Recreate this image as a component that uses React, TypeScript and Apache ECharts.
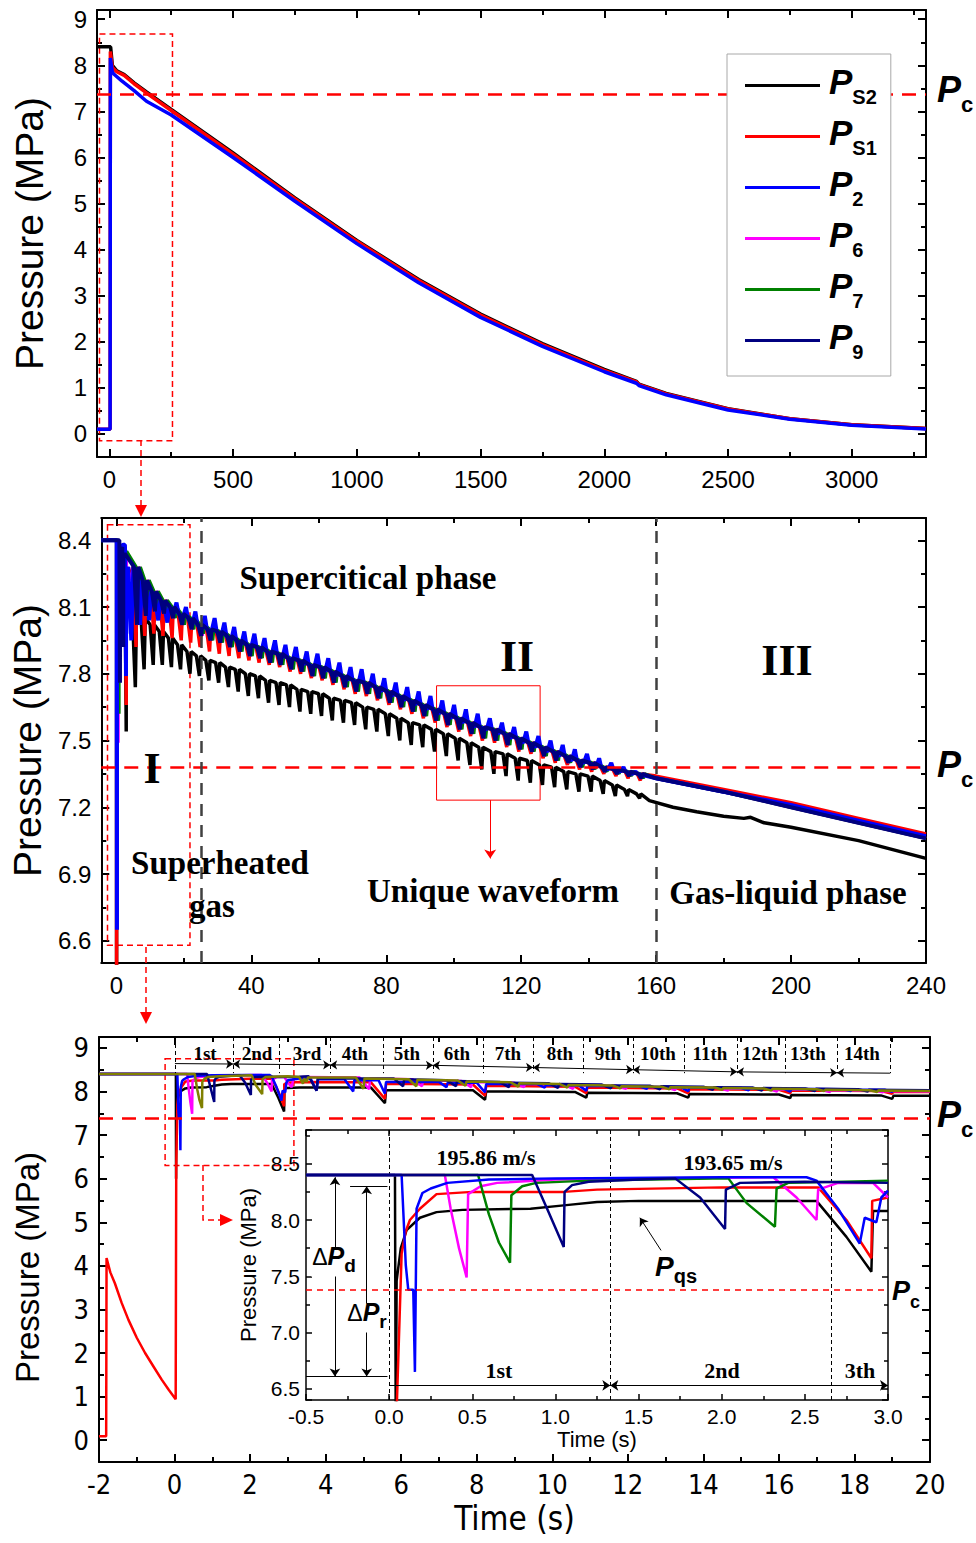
import React, { useEffect, useRef } from "react";
import * as echarts from "echarts";

// ---------------- constants ----------------
const PC = 7.38; // critical pressure, MPa
const P0 = 8.4; // initial pressure, MPa

// ---------------- panel (a): whole blow-down [t (s), p (MPa)] ----------------
const fullPS2 = [[-50, 8.4], [5, 8.4], [12, 8.0], [30, 7.88], [60, 7.8], [100, 7.62], [150, 7.42], [250, 7.04], [500, 6.1], [750, 5.12], [1000, 4.2], [1250, 3.35], [1500, 2.6], [1750, 1.96], [2000, 1.4], [2130, 1.14], [2140, 1.08], [2250, 0.88], [2500, 0.55], [2750, 0.33], [3000, 0.2], [3300, 0.12]];
const fullPS1 = [[-50, 0.1], [3, 0.1], [4, 8.3], [12, 7.95], [30, 7.86], [60, 7.78], [100, 7.6], [150, 7.4], [250, 7.02], [500, 6.07], [750, 5.1], [1000, 4.18], [1250, 3.33], [1500, 2.58], [1750, 1.94], [2000, 1.38], [2130, 1.13], [2140, 1.07], [2250, 0.87], [2500, 0.54], [2750, 0.33], [3000, 0.2], [3300, 0.12]];
const fullP2 = [[-50, 0.1], [3, 0.1], [4, 8.16], [12, 7.85], [20, 7.8], [50, 7.66], [100, 7.45], [150, 7.22], [250, 6.92], [500, 6.0], [750, 5.05], [1000, 4.13], [1250, 3.28], [1500, 2.53], [1750, 1.9], [2000, 1.35], [2130, 1.1], [2140, 1.05], [2250, 0.85], [2500, 0.52], [2750, 0.32], [3000, 0.19], [3300, 0.11]];

// ---------------- detail 0-3 s (inset) ----------------
const detPS2 = [[-0.5, 8.4], [0.035, 8.4], [0.04, 6.0], [0.045, 7.46], [0.07, 7.75], [0.105, 7.91], [0.185, 8.02], [0.285, 8.07], [0.44, 8.09], [0.85, 8.1], [1.05, 8.13], [1.25, 8.16], [1.5, 8.17], [2.57, 8.17], [2.75, 7.85], [2.9, 7.54], [2.91, 8.08], [3.0, 8.08]];
const prePS1 = [[-2, 0.09], [-1.81, 0.09], [-1.8, 4.18], [-1.7, 3.85], [-1.58, 3.6], [-1.4, 3.15], [-1.22, 2.76], [-1.0, 2.35], [-0.78, 2.0], [-0.55, 1.68], [-0.34, 1.39], [-0.15, 1.15], [0.03, 0.94]];
const detPS1 = [[0.045, 6.3], [0.075, 7.7], [0.1, 7.9], [0.125, 8.0], [0.185, 8.1], [0.285, 8.23], [0.5, 8.25], [1.05, 8.25], [1.25, 8.27], [2.0, 8.29], [2.58, 8.29], [2.75, 8.0], [2.9, 7.66], [2.905, 8.17], [3.0, 8.2]];
const detP2 = [[-0.5, 8.4], [0.075, 8.4], [0.1, 7.6], [0.115, 7.38], [0.145, 7.38], [0.155, 6.65], [0.165, 8.1], [0.2, 8.24], [0.25, 8.28], [0.35, 8.33], [0.6, 8.36], [1.0, 8.37], [2.0, 8.38], [2.51, 8.38], [2.57, 8.35], [2.7, 8.1], [2.83, 7.79], [2.86, 8.02], [2.93, 7.98], [2.96, 8.2], [3.0, 8.26]];
const detP6 = [[-0.5, 8.4], [0.335, 8.4], [0.37, 8.1], [0.42, 7.75], [0.466, 7.49], [0.475, 8.23], [0.55, 8.3], [0.65, 8.33], [1.0, 8.36], [2.31, 8.38], [2.45, 8.2], [2.57, 8.0], [2.58, 8.27], [2.7, 8.33], [2.91, 8.33], [3.0, 8.2]];
const detP7 = [[-0.5, 8.4], [0.535, 8.4], [0.6, 8.05], [0.66, 7.8], [0.727, 7.62], [0.735, 8.22], [0.8, 8.3], [0.885, 8.33], [1.2, 8.35], [2.04, 8.37], [2.15, 8.15], [2.32, 7.94], [2.33, 8.28], [2.4, 8.33], [3.0, 8.35]];
const detP9 = [[-0.5, 8.4], [0.86, 8.4], [0.95, 8.1], [1.05, 7.76], [1.055, 8.25], [1.1, 8.31], [1.2, 8.34], [1.5, 8.36], [1.72, 8.37], [1.87, 8.2], [2.02, 7.92], [2.025, 8.27], [2.11, 8.33], [2.5, 8.34], [3.0, 8.33]];

// ---------------- panel (c): 3-20 s ----------------
const p3PS2 = [[3.3, 8.09], [5.2, 8.09], [5.57, 7.73], [5.6, 8.03], [7.9, 8.03], [8.22, 7.81], [8.25, 8.0], [10.6, 7.99], [10.9, 7.86], [10.93, 7.97], [13.3, 7.96], [13.6, 7.86], [13.63, 7.94], [16.0, 7.93], [16.3, 7.85], [16.33, 7.92], [18.7, 7.91], [19.0, 7.83], [19.03, 7.9], [20, 7.9]];
const p3PS1 = [[3.3, 8.22], [5.2, 8.21], [5.57, 7.83], [5.6, 8.18], [7.9, 8.16], [8.22, 7.9], [8.25, 8.13], [10.6, 8.11], [10.9, 7.96], [10.93, 8.09], [13.3, 8.07], [13.6, 7.96], [13.63, 8.05], [16.0, 8.04], [16.3, 7.96], [16.33, 8.02], [18.7, 8.01], [19.0, 7.95], [19.03, 7.99], [20, 7.99]];
const p3P2 = [[3.3, 8.3], [3.6, 8.3], [3.76, 8.02], [3.8, 8.28], [4.5, 8.28], [4.73, 8.0], [4.76, 8.26], [5.4, 8.26], [5.57, 7.95], [5.6, 8.22], [7.0, 8.22], [7.2, 8.1], [7.23, 8.2], [8.0, 8.2], [8.22, 7.98], [8.25, 8.17], [9.6, 8.17], [9.8, 8.09], [9.83, 8.15], [10.7, 8.14], [10.9, 8.02], [10.93, 8.13], [12.3, 8.12], [12.5, 8.06], [12.53, 8.11], [13.4, 8.1], [13.6, 8.01], [13.63, 8.09], [15.0, 8.08], [15.2, 8.03], [15.23, 8.07], [16.1, 8.07], [16.3, 8.0], [16.33, 8.06], [17.7, 8.05], [17.9, 8.01], [17.93, 8.04], [18.8, 8.04], [19.0, 7.99], [19.03, 8.03], [20, 8.02]];
const p3P6 = [[3.1, 8.1], [3.15, 8.3], [3.4, 8.33], [4.9, 8.32], [5.15, 8.05], [5.18, 8.3], [6.3, 8.28], [6.55, 8.12], [6.58, 8.26], [7.6, 8.24], [7.85, 8.1], [7.88, 8.22], [9.0, 8.2], [9.25, 8.1], [9.28, 8.18], [10.3, 8.16], [10.55, 8.06], [10.58, 8.14], [11.7, 8.13], [11.95, 8.06], [11.98, 8.12], [13.0, 8.1], [13.25, 8.03], [13.28, 8.09], [14.4, 8.08], [14.65, 8.02], [14.68, 8.07], [15.7, 8.06], [15.95, 8.0], [15.98, 8.05], [17.1, 8.04], [17.35, 7.99], [17.38, 8.03], [18.5, 8.02], [18.75, 7.98], [18.78, 8.01], [20, 8.0]];
const p3P7 = [[3.3, 8.33], [3.4, 8.18], [3.43, 8.3], [3.5, 8.22], [3.53, 8.32], [4.8, 8.32], [5.0, 8.06], [5.03, 8.3], [6.2, 8.28], [6.4, 8.12], [6.43, 8.27], [7.5, 8.25], [7.7, 8.13], [7.73, 8.23], [8.9, 8.21], [9.1, 8.11], [9.13, 8.19], [10.2, 8.17], [10.4, 8.09], [10.43, 8.15], [11.6, 8.14], [11.8, 8.07], [11.83, 8.12], [12.9, 8.11], [13.1, 8.05], [13.13, 8.1], [14.3, 8.09], [14.5, 8.04], [14.53, 8.08], [15.6, 8.07], [15.8, 8.02], [15.83, 8.06], [17.0, 8.05], [17.2, 8.01], [17.23, 8.04], [18.4, 8.03], [18.6, 7.99], [18.63, 8.02], [20, 8.01]];
const p3P9 = [[3.3, 8.34], [3.55, 8.35], [3.76, 8.02], [3.79, 8.3], [5.8, 8.3], [6.05, 8.12], [6.08, 8.28], [7.2, 8.26], [7.45, 8.12], [7.48, 8.24], [8.6, 8.22], [8.85, 8.1], [8.88, 8.2], [9.9, 8.19], [10.15, 8.08], [10.18, 8.17], [11.3, 8.16], [11.55, 8.07], [11.58, 8.14], [12.6, 8.13], [12.85, 8.05], [12.88, 8.12], [14.0, 8.11], [14.25, 8.04], [14.28, 8.1], [15.3, 8.09], [15.55, 8.02], [15.58, 8.08], [16.7, 8.07], [16.95, 8.01], [16.98, 8.06], [18.1, 8.05], [18.35, 8.0], [18.38, 8.04], [20, 8.03]];

// cycle boundaries (s) and labels for panel (c)
const cycleBounds = [0.01, 1.55, 2.77, 4.12, 5.52, 6.84, 8.17, 9.49, 10.81, 12.14, 13.49, 14.89, 16.16, 17.54, 18.94];
const arrowBreaks = [0.01, 1.55, 4.12, 6.84, 9.49, 12.14, 14.89, 17.54, 18.94];
const arrowLevels = [8.64, 8.63, 8.61, 8.6, 8.55, 8.5, 8.45, 8.43, 8.42];
const cycleLabels = ["1st", "2nd", "3rd", "4th", "5th", "6th", "7th", "8th", "9th", "10th", "11th", "12th", "13th", "14th"];
// inset cycle boundaries (s)
const insetBounds = [0.0, 1.33, 2.66];

// ---------------- panel (b): oscillation teeth, 5-160 s ----------------
const waveT = [5.6, 8.2, 10.9, 13.6, 16.3, 19.0, 21.8, 24.6, 27.4, 30.3, 33.2, 36.1, 39.1, 42.1, 45.1, 48.2, 51.3, 54.4, 57.6, 60.8, 64.0, 67.3, 70.6, 73.9, 77.2, 80.6, 84.0, 87.4, 90.8, 94.3, 97.8, 101.3, 104.8, 108.3, 111.9, 115.5, 119.1, 122.7, 126.3, 129.9, 133.5, 137.1, 140.7, 144.3, 147.9, 151.5, 155.1];
const topPS2 = [8.08, 8.05, 8.02, 7.99, 7.96, 7.93, 7.90, 7.88, 7.86, 7.85, 7.83, 7.82, 7.80, 7.79, 7.77, 7.76, 7.75, 7.73, 7.72, 7.71, 7.69, 7.68, 7.67, 7.65, 7.64, 7.62, 7.60, 7.58, 7.57, 7.55, 7.53, 7.51, 7.49, 7.47, 7.45, 7.44, 7.42, 7.41, 7.39, 7.38, 7.36, 7.35, 7.34, 7.32, 7.30, 7.28, 7.26];
const botPS2 = [7.74, 7.82, 7.84, 7.84, 7.83, 7.82, 7.80, 7.79, 7.77, 7.76, 7.74, 7.72, 7.70, 7.69, 7.67, 7.66, 7.65, 7.63, 7.62, 7.61, 7.59, 7.58, 7.57, 7.55, 7.54, 7.52, 7.50, 7.48, 7.47, 7.45, 7.43, 7.41, 7.39, 7.37, 7.35, 7.34, 7.32, 7.31, 7.30, 7.29, 7.28, 7.27, 7.27, 7.26, 7.25, 7.25, 7.24];
const baseP9 = [8.28, 8.22, 8.17, 8.13, 8.10, 8.07, 8.05, 8.02, 8.00, 7.99, 7.97, 7.95, 7.93, 7.92, 7.90, 7.89, 7.87, 7.86, 7.84, 7.83, 7.81, 7.79, 7.77, 7.76, 7.74, 7.72, 7.70, 7.68, 7.66, 7.64, 7.62, 7.60, 7.58, 7.56, 7.55, 7.53, 7.51, 7.49, 7.47, 7.45, 7.43, 7.41, 7.40, 7.38, 7.37, 7.36, 7.35];
const dipP9 = [8.02, 8.06, 8.08, 8.07, 8.05, 8.02, 8.00, 7.97, 7.95, 7.94, 7.92, 7.90, 7.88, 7.87, 7.85, 7.84, 7.82, 7.81, 7.79, 7.78, 7.76, 7.74, 7.72, 7.71, 7.69, 7.67, 7.65, 7.63, 7.61, 7.59, 7.57, 7.55, 7.53, 7.51, 7.50, 7.48, 7.46, 7.45, 7.43, 7.41, 7.40, 7.38, 7.37, 7.36, 7.35, 7.34, 7.33];
const extP2 = [7.95, 8.02, 8.04, 8.04, 8.03, 8.12, 8.10, 8.08, 8.06, 8.05, 8.03, 8.01, 7.99, 7.98, 7.96, 7.95, 7.93, 7.92, 7.90, 7.89, 7.87, 7.85, 7.83, 7.82, 7.80, 7.78, 7.76, 7.74, 7.72, 7.70, 7.68, 7.66, 7.64, 7.62, 7.60, 7.58, 7.56, 7.54, 7.52, 7.50, 7.48, 7.46, 7.44, 7.42, 7.40, 7.38, 7.36];
const extPS1 = [7.92, 7.97, 7.98, 7.97, 7.96, 7.95, 7.94, 7.92, 7.90, 7.89, 7.88, 7.87, 7.86, 7.85, 7.84, 7.83, 7.81, 7.80, 7.78, 7.77, 7.75, 7.73, 7.71, 7.70, 7.68, 7.66, 7.64, 7.62, 7.60, 7.58, 7.56, 7.54, 7.52, 7.50, 7.49, 7.47, 7.45, 7.44, 7.42, 7.40, 7.39, 7.37, 7.36, 7.35, 7.34, 7.33, 7.32];
const earlyP7 = [8.08, 8.10, 8.10, 8.08, 8.05, 8.02, 8.00, 7.98];
const earlyP6 = [8.02, 8.06, 8.08];
const tailPS2 = [[158, 7.23], [165, 7.2], [172, 7.18], [180, 7.16], [186, 7.15], [188, 7.155], [192, 7.13], [200, 7.11], [220, 7.05], [240, 6.97]];
const tailPS1 = [[160, 7.34], [180, 7.28], [200, 7.22], [220, 7.15], [240, 7.08]];
const tailP2 = [[160, 7.33], [180, 7.27], [200, 7.21], [220, 7.14], [240, 7.07]];
const tailP9 = [[160, 7.33], [180, 7.27], [200, 7.2], [220, 7.13], [240, 7.06]];

// ---------------- styling ----------------
const SANS = '"Liberation Sans", Arial, Helvetica, sans-serif';
const NARROW = '"Liberation Sans Narrow", "Arial Narrow", "DejaVu Sans Condensed", "Liberation Sans", sans-serif';
const SERIF = '"Liberation Serif", "Times New Roman", serif';
const C = { PS2: "#000000", PS1: "#ff0000", P2: "#0000ff", P6: "#ff00ff", P7: "#008000", P7b: "#808000", P9: "#000080" };

function teeth(times: number[], base: number[], ext: number[], lead: number, lag: number, shift = 0) {
  const pts: number[][] = [];
  times.forEach((t, i) => {
    const c = t + shift;
    const b = base[i] ?? base[base.length - 1];
    const e = ext[i] ?? ext[ext.length - 1];
    pts.push([c - lead, b], [c, e], [c + lag, b]);
  });
  return pts;
}

// label only on exact multiples of the step (hides the extent end labels)
const stepFmt = (step: number, dec: number) => (v: number) => {
  const k = v / step;
  return Math.abs(k - Math.round(k)) < 1e-6 ? v.toFixed(dec) : "";
};

function axisPair(dim: "x" | "y", g: number, c: any) {
  const base: any = {
    type: "value", gridIndex: g, min: c.min, max: c.max,
    ...(c.interval ? { interval: c.interval } : { minInterval: c.step, maxInterval: c.step }),
    axisLine: { show: true, onZero: false, lineStyle: { color: "#000", width: c.lw } },
    axisTick: { show: true, inside: true, length: c.tick, lineStyle: { color: "#000", width: c.lw } },
    minorTick: { show: true, splitNumber: 2, length: Math.round(c.tick * 0.6), lineStyle: { color: "#000", width: c.lw } },
    splitLine: { show: false }, minorSplitLine: { show: false },
    z: c.z ?? 0, silent: true,
  };
  const main = {
    ...base, position: dim === "x" ? "bottom" : "left",
    axisLabel: { show: true, color: "#000", fontFamily: c.font, fontSize: c.fontSize, margin: c.margin, formatter: c.fmt },
    name: c.name, nameLocation: "middle", nameGap: c.nameGap,
    nameTextStyle: { fontFamily: c.nameFont, fontSize: c.nameSize, color: "#000", padding: c.namePad ?? 0 },
  };
  const mirror = { ...base, position: dim === "x" ? "top" : "right", axisLabel: { show: false }, name: "" };
  return [main, mirror];
}

function line(name: string, g: number, data: any[], color: string, width: number, extra: any = {}) {
  return {
    type: "line", name, xAxisIndex: 2 * g, yAxisIndex: 2 * g, data, showSymbol: false, symbol: "none",
    lineStyle: { color, width }, itemStyle: { color }, clip: true, silent: true, animation: false,
    emphasis: { disabled: true }, ...extra,
  };
}

const pcLine = (w: number, dash: number[], z = 5) => ({
  silent: true, symbol: "none", label: { show: false }, z,
  lineStyle: { color: "#ff0000", width: w, type: dash },
  data: [{ yAxis: PC }],
});
const dashedBox = (x1: number, y1: number, x2: number, y2: number, solid = false) => ({
  silent: true,
  itemStyle: { color: "rgba(0,0,0,0)", borderColor: "#ff0000", borderWidth: solid ? 1 : 1.5, borderType: solid ? "solid" : [6, 4] },
  data: [[{ xAxis: x1, yAxis: y1 }, { xAxis: x2, yAxis: y2 }]],
});

const subRich = (pSize: number, sSize: number, drop: number, color = "#000") => ({
  p: { fontSize: pSize, fontWeight: "bold", fontStyle: "italic", fontFamily: SANS, lineHeight: pSize, padding: [0, 0, drop, 0], verticalAlign: "bottom", color, fill: color },
  s: { fontSize: sSize, fontWeight: "bold", fontFamily: SANS, lineHeight: sSize, verticalAlign: "bottom", color, fill: color },
  d: { fontSize: pSize - 2, fontFamily: SANS, lineHeight: pSize, padding: [0, 0, drop, 0], verticalAlign: "bottom", color, fill: color },
});

function buildOption() {
  // panel (b) composites
  const extP7 = waveT.map((_, i) => (i < earlyP7.length ? earlyP7[i] : dipP9[i]));
  const extP6 = waveT.map((_, i) => (i < earlyP6.length ? earlyP6[i] : dipP9[i]));
  const bPS2 = [[-4.5, P0], ...detPS2, ...teeth(waveT, topPS2, botPS2, 0.9, 0.35), ...tailPS2];
  const bPS1 = [...prePS1, ...detPS1, ...teeth(waveT, baseP9, extPS1, 0.9, 0.35, 0.2), ...tailPS1];
  const bP6 = [[-4.5, P0], ...detP6, ...teeth(waveT, baseP9, extP6, 0.9, 0.35, 0.8), ...tailP9];
  const bP7 = [[-4.5, P0], ...detP7, ...teeth(waveT, baseP9, extP7, 0.9, 0.35, 1.1), ...tailP9];
  const bP2 = [[-4.5, P0], ...detP2, ...teeth(waveT, baseP9, extP2, 0.9, 0.6, -1.2), ...tailP2];
  const bP9 = [[-4.5, P0], ...detP9, ...teeth(waveT, baseP9, dipP9, 0.9, 0.35, 0.5), ...tailP9];

  const cPS2 = [[-2, P0], ...detPS2, ...p3PS2];
  const cPS1 = [...prePS1, ...detPS1, ...p3PS1];
  const cP2 = [[-2, P0], ...detP2, ...p3P2];
  const cP6 = [[-2, P0], ...detP6, ...p3P6];
  const cP7 = [[-2, P0], ...detP7, ...p3P7];
  const cP9 = [[-2, P0], ...detP9, ...p3P9];

  const thin = { color: "#000", width: 1 };
  const cycleLines: any[] = cycleBounds.map((t) => [
    { coord: [t, 9.25], symbol: "none", lineStyle: { color: "#000", width: 1, type: [4, 3] } },
    { coord: [t, 8.42], symbol: "none" },
  ]);
  const cycleArrows: any[] = arrowBreaks.slice(0, -1).map((t, i) => [
    { coord: [t, arrowLevels[i]], symbol: i === 0 ? "none" : "arrow", lineStyle: { ...thin, type: "solid" } },
    { coord: [arrowBreaks[i + 1], arrowLevels[i + 1]], symbol: i === arrowBreaks.length - 2 ? "none" : "arrow" },
  ]);

  const grid = [
    { left: 97, top: 10, width: 829, height: 447 },
    { left: 97, top: 518, width: 829, height: 445 },
    { left: 99, top: 1037, width: 831, height: 425 },
    { left: 306, top: 1130, width: 582, height: 270, show: true, backgroundColor: "#fff", borderWidth: 0, z: 8 },
  ];

  const xAxis = [
    ...axisPair("x", 0, { min: -50, max: 3300, step: 500, lw: 2, tick: 8, font: SANS, fontSize: 24, margin: 10, fmt: stepFmt(500, 0) }),
    ...axisPair("x", 1, { min: -4.5, max: 240, step: 40, lw: 2, tick: 8, font: SANS, fontSize: 24, margin: 10, fmt: stepFmt(40, 0) }),
    ...axisPair("x", 2, { min: -2, max: 20, interval: 2, lw: 2, tick: 8, font: NARROW, fontSize: 27, margin: 9, name: "Time (s)", nameGap: 40, nameFont: NARROW, nameSize: 33 }),
    ...axisPair("x", 3, { min: -0.5, max: 3, interval: 0.5, lw: 1.5, tick: 6, font: SANS, fontSize: 21, margin: 6, fmt: stepFmt(0.5, 1), name: "Time (s)", nameGap: 28, nameFont: SANS, nameSize: 22, z: 9 }),
  ];
  const yAxis = [
    ...axisPair("y", 0, { min: -0.5, max: 9.2, step: 1, lw: 2, tick: 8, font: SANS, fontSize: 24, margin: 10, fmt: stepFmt(1, 0), name: "Pressure (MPa)", nameGap: 48, nameFont: SANS, nameSize: 39 }),
    ...axisPair("y", 1, { min: 6.5, max: 8.5, step: 0.3, lw: 2, tick: 8, font: SANS, fontSize: 24, margin: 10, fmt: stepFmt(0.3, 1), name: "Pressure (MPa)", nameGap: 48, nameFont: SANS, nameSize: 39 }),
    ...axisPair("y", 2, { min: -0.5, max: 9.25, step: 1, lw: 2, tick: 8, font: NARROW, fontSize: 27, margin: 10, fmt: stepFmt(1, 0), name: "Pressure (MPa)", nameGap: 55, nameFont: SANS, nameSize: 33, namePad: [0, 36, 0, 0] }),
    ...axisPair("y", 3, { min: 6.4, max: 8.8, step: 0.5, lw: 1.5, tick: 6, font: SANS, fontSize: 21, margin: 6, fmt: stepFmt(0.5, 1), name: "Pressure (MPa)", nameGap: 31, nameFont: SANS, nameSize: 22, z: 9 }),
  ];

  const series: any[] = [
    // panel (a)
    line("PS2", 0, fullPS2, C.PS2, 3.5, { markLine: pcLine(2.5, [14, 9]), markArea: dashedBox(-40, 8.68, 255, -0.15) }),
    line("PS1", 0, fullPS1, C.PS1, 3.5),
    line("P2", 0, fullP2, C.P2, 3.5),
    // panel (b)
    line("PS2", 1, bPS2, C.PS2, 3.5, {
      markLine: {
        silent: true, symbol: "none", label: { show: false },
        data: [
          { yAxis: PC, lineStyle: { color: "#ff0000", width: 2.5, type: [14, 9] } },
          { xAxis: 25, lineStyle: { color: "#404040", width: 2.5, type: [12, 9] } },
          { xAxis: 160, lineStyle: { color: "#404040", width: 2.5, type: [12, 9] } },
        ],
      },
      markArea: dashedBox(-2.65, 8.47, 21.8, 6.58),
    }),
    line("PS1", 1, bPS1, C.PS1, 3.5, {
      markArea: dashedBox(94.9, 7.746, 125.6, 7.232, true),
      markLine: {
        silent: true, symbol: ["none", "arrow"], symbolSize: 9, label: { show: false },
        lineStyle: { color: "#ff0000", width: 1, type: "solid" },
        data: [[{ coord: [110.8, 7.232] }, { coord: [110.8, 6.97] }]],
      },
    }),
    line("P6", 1, bP6, C.P6, 3.5),
    line("P7", 1, bP7, C.P7, 3.5),
    line("P2", 1, bP2, C.P2, 4),
    line("P9", 1, bP9, C.P9, 4),
    // panel (c)
    line("PS2", 2, cPS2, C.PS2, 2.5, { markLine: pcLine(2.5, [14, 9]), markArea: dashedBox(-0.25, 8.75, 3.16, 6.3) }),
    line("PS1", 2, cPS1, C.PS1, 2.5, {
      markLine: { silent: true, symbolSize: 7, label: { show: false }, lineStyle: thin, data: [...cycleLines, ...cycleArrows] },
    }),
    line("P6", 2, cP6, C.P6, 2.5),
    line("P2", 2, cP2, C.P2, 2.5),
    line("P9", 2, cP9, C.P9, 2.5),
    line("P7b", 2, cP7, C.P7b, 2.5),
    // inset
    line("PS2", 3, detPS2, C.PS2, 2.5, { z: 10, markLine: pcLine(1.5, [6, 5], 12) }),
    line("PS1", 3, [...prePS1, ...detPS1], C.PS1, 2.5, {
      z: 10,
      markLine: {
        silent: true, symbolSize: 8, label: { show: false }, lineStyle: { ...thin, type: "solid" }, z: 12,
        data: [
          [{ coord: [0.0, 6.53], symbol: "none" }, { coord: [1.33, 6.53], symbol: "arrow" }],
          [{ coord: [1.33, 6.53], symbol: "arrow" }, { coord: [2.66, 6.53], symbol: "none" }],
          [{ coord: [2.66, 6.53], symbol: "none" }, { coord: [3.0, 6.53], symbol: "arrow" }],
          [{ coord: [-0.326, 8.38], symbol: "arrow" }, { coord: [-0.326, 6.61], symbol: "arrow" }],
          [{ coord: [-0.135, 8.3], symbol: "arrow" }, { coord: [-0.135, 6.61], symbol: "arrow" }],
          [{ coord: [-0.5, 6.61], symbol: "none" }, { coord: [-0.01, 6.61], symbol: "none" }],
          [{ coord: [-0.235, 8.3], symbol: "none" }, { coord: [-0.01, 8.3], symbol: "none" }],
          [{ coord: [1.635, 7.73], symbol: "none" }, { coord: [1.508, 8.02], symbol: "arrow" }],
        ],
      },
    }),
    line("P6", 3, detP6, C.P6, 2.5, { z: 10 }),
    line("P7", 3, detP7, C.P7, 2.5, { z: 10 }),
    line("P2", 3, detP2, C.P2, 2.5, { z: 10 }),
    line("P9", 3, detP9, C.P9, 2.5, {
      z: 10,
      markLine: {
        silent: true, symbol: "none", label: { show: false }, z: 9,
        lineStyle: { color: "#000", width: 1, type: [4, 3] },
        data: insetBounds.map((t) => ({ xAxis: t })),
      },
    }),
  ];

  const txt = (text: string, x: number, y: number, size: number, family = SERIF, weight = "bold") => ({
    type: "text", x, y, z: 50, silent: true,
    style: { text, fill: "#000", fontFamily: family, fontWeight: weight, fontSize: size, align: "center", verticalAlign: "middle" },
  });
  const richTxt = (text: string, x: number, y: number, rich: any, bg?: string) => ({
    type: "text", x, y, z: 50, silent: true,
    style: { text, rich, align: "center", verticalAlign: "middle", backgroundColor: bg, padding: bg ? [2, 1] : 0 },
  });
  const red = "#ff0000";
  const cycleLabelX = [205, 257, 307, 355, 407, 457, 508, 560, 608, 658, 710, 760, 808, 862];

  const graphic: any[] = [
    txt("Supercitical phase", 368, 578, 33),
    txt("I", 152, 768, 44),
    txt("II", 517, 656, 44),
    txt("III", 787, 660, 44),
    txt("Superheated", 220, 863, 33),
    txt("gas", 212, 906, 33),
    txt("Unique waveform", 493, 891, 33),
    txt("Gas-liquid phase", 788, 893, 33),
    ...cycleLabels.map((l, i) => txt(l, cycleLabelX[i], 1053, 19)),
    txt("195.86 m/s", 486, 1157, 22),
    txt("193.65 m/s", 733, 1162, 22),
    txt("1st", 499, 1370, 22),
    txt("2nd", 722, 1370, 22),
    txt("3th", 860, 1370, 22),
    richTxt("{p|P}{s|c}", 955, 97, subRich(36, 22, 8)),
    richTxt("{p|P}{s|c}", 955, 772, subRich(36, 22, 8)),
    richTxt("{p|P}{s|c}", 955, 1122, subRich(36, 22, 8)),
    richTxt("{p|P}{s|c}", 906, 1297, subRich(27, 18, 6)),
    richTxt("{d|Δ}{p|P}{s|d}", 334, 1262, subRich(25, 19, 6), "#fff"),
    richTxt("{d|Δ}{p|P}{s|r}", 367, 1318, subRich(25, 19, 6), "#fff"),
    richTxt("{p|P}{s|qs}", 676, 1272, subRich(28, 20, 6)),
    // zoom connectors
    { type: "line", z: 40, silent: true, shape: { x1: 141, y1: 440, x2: 141, y2: 506 }, style: { stroke: red, lineWidth: 1.5, lineDash: [6, 4] } },
    { type: "polygon", z: 40, silent: true, shape: { points: [[135, 505], [147, 505], [141, 517]] }, style: { fill: red } },
    { type: "line", z: 40, silent: true, shape: { x1: 146, y1: 947, x2: 146, y2: 1013 }, style: { stroke: red, lineWidth: 1.5, lineDash: [6, 4] } },
    { type: "polygon", z: 40, silent: true, shape: { points: [[140, 1012], [152, 1012], [146, 1024]] }, style: { fill: red } },
    { type: "polyline", z: 40, silent: true, shape: { points: [[203, 1165], [203, 1220], [221, 1220]] }, style: { stroke: red, lineWidth: 1.5, lineDash: [6, 4], fill: null } },
    { type: "polygon", z: 40, silent: true, shape: { points: [[220, 1214], [220, 1226], [233, 1220]] }, style: { fill: red } },
  ];

  return {
    animation: false,
    backgroundColor: "#ffffff",
    textStyle: { fontFamily: SANS },
    legend: {
      data: ["PS2", "PS1", "P2", "P6", "P7", "P9"],
      orient: "vertical", left: 727, top: 54,
      padding: [10, 14, 14, 18],
      borderColor: "#a8a8a8", borderWidth: 1, backgroundColor: "#fff",
      itemWidth: 75, itemHeight: 3, itemGap: 8, icon: "rect",
      selectedMode: false,
      formatter: (n: string) => `{p|P}{s|${n.slice(1)}}`,
      textStyle: { rich: subRich(35, 20, 8), padding: [8, 0, 0, 4] },
      z: 20,
    },
    grid, xAxis, yAxis, series, graphic,
  };
}

export default function App() {
  const ref = useRef<HTMLDivElement>(null);
  useEffect(() => {
    if (!ref.current) return;
    const chart = echarts.init(ref.current, null, { renderer: "svg" });
    chart.setOption(buildOption() as any);
    return () => chart.dispose();
  }, []);
  return (
    <div
      ref={ref}
      style={{ position: "absolute", left: 0, top: 0, width: 976, height: 1543, background: "#fff" }}
    />
  );
}
